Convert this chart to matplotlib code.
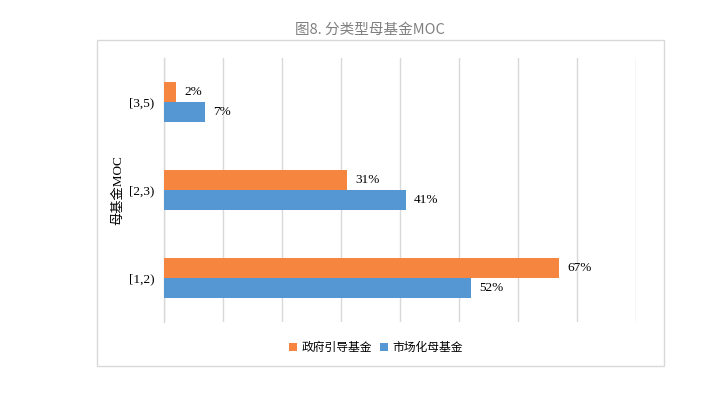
import matplotlib
matplotlib.use("Agg")
import matplotlib.pyplot as plt
from matplotlib.patches import Rectangle, Patch
import numpy as np

categories = ["[1,2)", "[2,3)", "[3,5)"]
gov_values = [67, 31, 2]      # 政府引导基金
mkt_values = [52, 41, 7]      # 市场化母基金
series_names = ["政府引导基金", "市场化母基金"]
title = "图8. 分类型母基金MOC"
ylabel = "母基金MOC"

orange = "#F5853F"
blue = "#5597D3"
grid_c = "#D9D9D9"

fig = plt.figure(figsize=(7.03, 3.94), dpi=100)
fig.patch.set_facecolor("white")

# outer chart border
fig.patches.append(Rectangle((0.138, 0.071), 0.8065, 0.8275, transform=fig.transFigure,
                             fill=False, edgecolor=grid_c, linewidth=1.0))

ax = fig.add_axes([0.2333, 0.1827, 0.6714, 0.6701])
y = np.arange(len(categories))
h = 0.23
ax.barh(y + h / 2, gov_values, height=h, color=orange, label=series_names[0], zorder=3)
ax.barh(y - h / 2, mkt_values, height=h, color=blue, label=series_names[1], zorder=3)

for yi, v in zip(y, gov_values):
    ax.text(v + 1.4, yi + h / 2, f"{v}%", va="center", ha="left",
            fontsize=9.5, family="Liberation Serif", color="black")
for yi, v in zip(y, mkt_values):
    ax.text(v + 1.4, yi - h / 2, f"{v}%", va="center", ha="left",
            fontsize=9.5, family="Liberation Serif", color="black")

ax.set_xlim(0, 80)
ax.set_ylim(-0.5, 2.5)
ax.set_xticks(np.arange(0, 81, 10))
ax.set_xticklabels([])
ax.tick_params(axis="x", length=0)
ax.xaxis.grid(True, color=grid_c, linewidth=1.0, zorder=0)
ax.set_yticks(y)
ax.set_yticklabels(categories, family="Liberation Serif", fontsize=9.5)
ax.tick_params(axis="y", length=0, pad=7)
for s in ["top", "right", "bottom"]:
    ax.spines[s].set_visible(False)
ax.spines["left"].set_color(grid_c)
ax.spines["left"].set_linewidth(1.0)

ax.set_ylabel(ylabel, family=["Liberation Serif", "Noto Sans CJK SC"], fontsize=9.5, labelpad=3)

fig.text(0.526, 0.924, title, ha="center", va="center", fontsize=10.5,
         color="#7F7F7F", family=["Noto Sans CJK SC", "DejaVu Sans"])

handles = [Patch(facecolor=orange, label=series_names[0]),
           Patch(facecolor=blue, label=series_names[1])]
fig.legend(handles=handles, loc="center", bbox_to_anchor=(0.535, 0.118), ncol=2,
           frameon=False, prop={"family": "Noto Sans CJK SC", "size": 8.5},
           handlelength=0.7, handleheight=0.7, handletextpad=0.4, columnspacing=0.6)

fig.savefig("out.png", dpi=100)
